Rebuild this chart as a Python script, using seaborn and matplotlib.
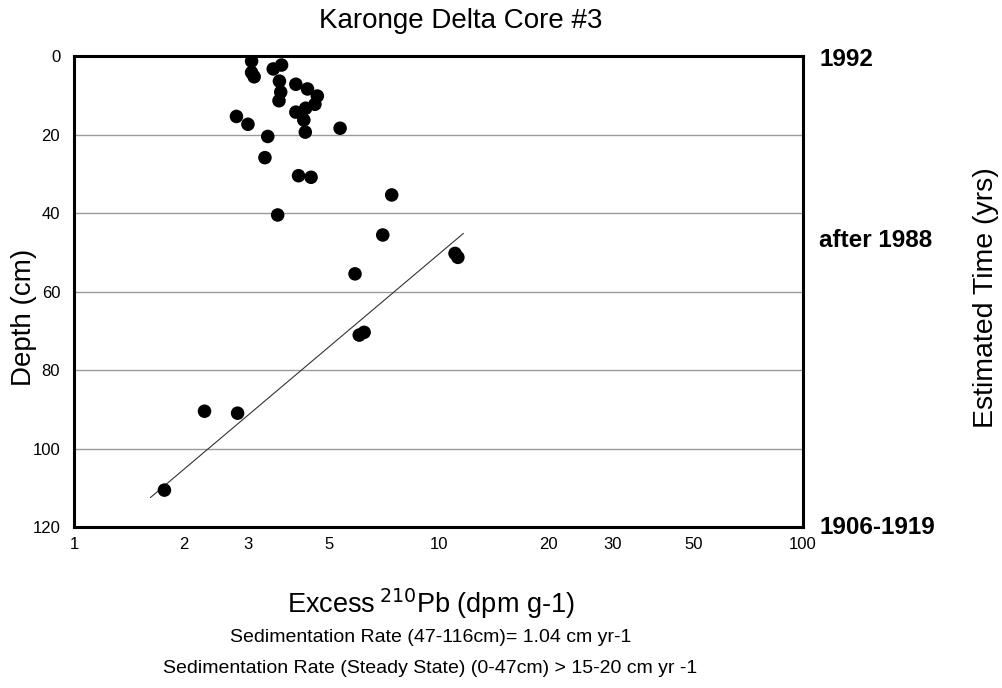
import matplotlib
matplotlib.use("Agg")
import matplotlib.pyplot as plt
from matplotlib.ticker import FixedLocator, FixedFormatter, NullFormatter
import seaborn as sns
import pandas as pd

# Excess 210Pb activity (dpm/g) and sample depth (cm)
excess_pb = [3.07, 3.07, 3.12, 3.52, 3.71, 3.66, 3.69, 3.65, 4.06, 4.37,
             4.65, 4.58, 4.32, 4.06, 4.27, 4.31, 5.37, 2.79, 3.00, 3.40,
             3.34, 4.13, 4.47, 7.44, 3.62, 7.03, 5.90, 11.1, 11.3, 6.06,
             6.25, 2.28, 2.81, 1.77]
depth_cm = [1.3, 4.2, 5.3, 3.3, 2.3, 6.4, 9.2, 11.4, 7.2, 8.4,
            10.2, 12.3, 13.3, 14.3, 16.3, 19.4, 18.4, 15.4, 17.4, 20.5,
            25.9, 30.5, 30.9, 35.4, 40.5, 45.6, 55.5, 50.3, 51.3, 71.1,
            70.4, 90.5, 91.0, 110.6]

# Regression line for the 47-116 cm interval
fit_pb = [1.62, 11.7]
fit_depth = [112.5, 45.2]

x_ticks = [1, 2, 3, 5, 10, 20, 30, 50, 100]
x_tick_labels = ["1", "2", "3", "5", "10", "20", "30", "50", "100"]
y_ticks = [0, 20, 40, 60, 80, 100, 120]

# Estimated ages at depth
age_depths = [1, 47, 120]
age_labels = ["1992", "after 1988", "1906-1919"]

sns.set_style("white")
plt.rcParams["font.family"] = ["Liberation Sans", "DejaVu Sans"]
plt.rcParams["text.color"] = "black"
plt.rcParams["axes.labelcolor"] = "black"
plt.rcParams["xtick.color"] = "black"
plt.rcParams["ytick.color"] = "black"

df = pd.DataFrame({"pb": excess_pb, "depth": depth_cm})
fit_df = pd.DataFrame({"pb": fit_pb, "depth": fit_depth})

fig = plt.figure(figsize=(10.02, 6.88), dpi=100)
ax = fig.add_axes([0.0739, 0.234, 0.7275, 0.6846])

ax.set_xscale("log")
for y in [20, 40, 60, 80, 100]:
    ax.axhline(y, color="#9a9a9a", lw=1.0, zorder=0)

sns.lineplot(data=fit_df, x="pb", y="depth", ax=ax, color="#333333",
             lw=0.8, sort=False, estimator=None, zorder=2)
sns.scatterplot(data=df, x="pb", y="depth", ax=ax, color="black", s=95,
                edgecolor="none", zorder=3)

ax.set_xlim(1, 100)
ax.set_ylim(120, 0)

ax.xaxis.set_major_locator(FixedLocator(x_ticks))
ax.xaxis.set_major_formatter(FixedFormatter(x_tick_labels))
ax.xaxis.set_minor_formatter(NullFormatter())
ax.yaxis.set_major_locator(FixedLocator(y_ticks))
ax.yaxis.set_minor_locator(FixedLocator([10, 30, 50, 70, 90, 110]))
ax.tick_params(axis="both", which="major", direction="in", length=3,
               width=0.6, color="#666666", labelsize=12, labelcolor="black")
ax.tick_params(axis="x", which="major", pad=7)
ax.tick_params(axis="y", which="major", pad=10)
ax.tick_params(axis="both", which="minor", direction="in", length=2,
               width=0.5, color="#888888")

for sp in ax.spines.values():
    sp.set_visible(True)
    sp.set_color("black")
    sp.set_linewidth(2.2)

ax.set_xlabel("")
ax.set_ylabel("")

fig.text(0.4600, 0.970, "Karonge Delta Core #3", fontsize=20,
         ha="center", va="center")
fig.text(0.024, 0.538, "Depth (cm)", fontsize=20, rotation=90,
         ha="center", va="center")

fig.text(0.4297, 0.123, r"Excess$\,^{210}$Pb (dpm g-1)", fontsize=19.5,
         ha="center", va="center", math_fontfamily="custom")
fig.text(0.4297, 0.073, "Sedimentation Rate (47-116cm)= 1.04 cm yr-1",
         fontsize=14, ha="center", va="center")
fig.text(0.4297, 0.029,
         "Sedimentation Rate (Steady State) (0-47cm) > 15-20 cm yr -1",
         fontsize=14, ha="center", va="center")

for d, lab in zip(age_depths, age_labels):
    ax.text(1.022, d, lab, transform=ax.get_yaxis_transform(), fontsize=17.5,
            fontweight="bold", ha="left", va="center")

fig.text(0.984, 0.567, "Estimated Time (yrs)", fontsize=20.5, rotation=90,
         ha="center", va="center")

fig.savefig("out.png", dpi=100)
